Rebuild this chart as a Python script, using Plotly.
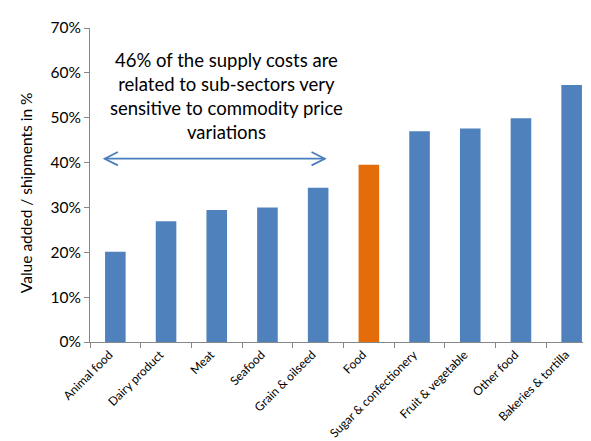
import plotly.graph_objects as go

categories = ["Animal food", "Dairy product", "Meat", "Seafood", "Grain & oilseed",
              "Food", "Sugar & confectionery", "Fruit & vegetable", "Other food",
              "Bakeries & tortilla"]
values = [0.201, 0.269, 0.294, 0.300, 0.344, 0.395, 0.470, 0.476, 0.499, 0.573]
colors = ["#4F81BD"] * 5 + ["#E46C0A"] + ["#4F81BD"] * 4
y_ticks = [0, 0.1, 0.2, 0.3, 0.4, 0.5, 0.6, 0.7]
y_ticklabels = ["0%", "10%", "20%", "30%", "40%", "50%", "60%", "70%"]
y_title = "Value added / shipments in %"
note = "46% of the supply costs are<br>related to sub-sectors very<br>sensitive to commodity price<br>variations"

font = "Lato, Carlito, Calibri, sans-serif"
arrow_color = "#4A7EBB"

fig = go.Figure(go.Bar(x=categories, y=values, marker_color=colors,
                       marker_line_width=0, width=0.406))

fig.update_layout(
    width=591, height=441,
    margin=dict(l=82, r=2, t=20, b=107, autoexpand=False),
    paper_bgcolor="white", plot_bgcolor="white",
    showlegend=False,
    font=dict(family=font, color="#000000"),
    xaxis=dict(showline=True, linecolor="#868686", linewidth=1, automargin=False,
               ticks="outside", tickson="boundaries", ticklen=5, tickcolor="#868686",
               tickangle=-45, tickfont=dict(size=12, family=font),
               ticklabelshift=-6),
    yaxis=dict(range=[0, 0.7], tickvals=y_ticks, ticktext=y_ticklabels,
               showline=True, linecolor="#868686", linewidth=1, automargin=False,
               ticks="outside", ticklen=5, tickcolor="#868686",
               showgrid=False, zeroline=False,
               tickfont=dict(size=15.5, family=font)),
)

# y-axis title
fig.add_annotation(x=-0.126, y=0.4745, xref="paper", yref="paper", text=y_title,
                   textangle=-90, showarrow=False, xanchor="center", yanchor="middle",
                   font=dict(size=15.5, family=font))

# note text
fig.add_annotation(x=2.20, y=0.548, xref="x", yref="y", text=note, showarrow=False,
                   font=dict(size=18.5, family=font), align="center", yanchor="middle")

# double-headed arrow with open chevron heads
ax0, ax1, ay = -0.21, 4.13, 0.4086
hx, hy = 0.26, 0.0148
fig.add_shape(type="line", xref="x", yref="y", x0=ax0, x1=ax1, y0=ay, y1=ay,
              line=dict(color=arrow_color, width=1.8))
head_path = (f"M {ax0 + hx} {ay + hy} L {ax0} {ay} L {ax0 + hx} {ay - hy} "
             f"M {ax1 - hx} {ay + hy} L {ax1} {ay} L {ax1 - hx} {ay - hy}")
fig.add_shape(type="path", xref="x", yref="y", path=head_path,
              line=dict(color=arrow_color, width=1.8))

fig.write_html("out.html")
